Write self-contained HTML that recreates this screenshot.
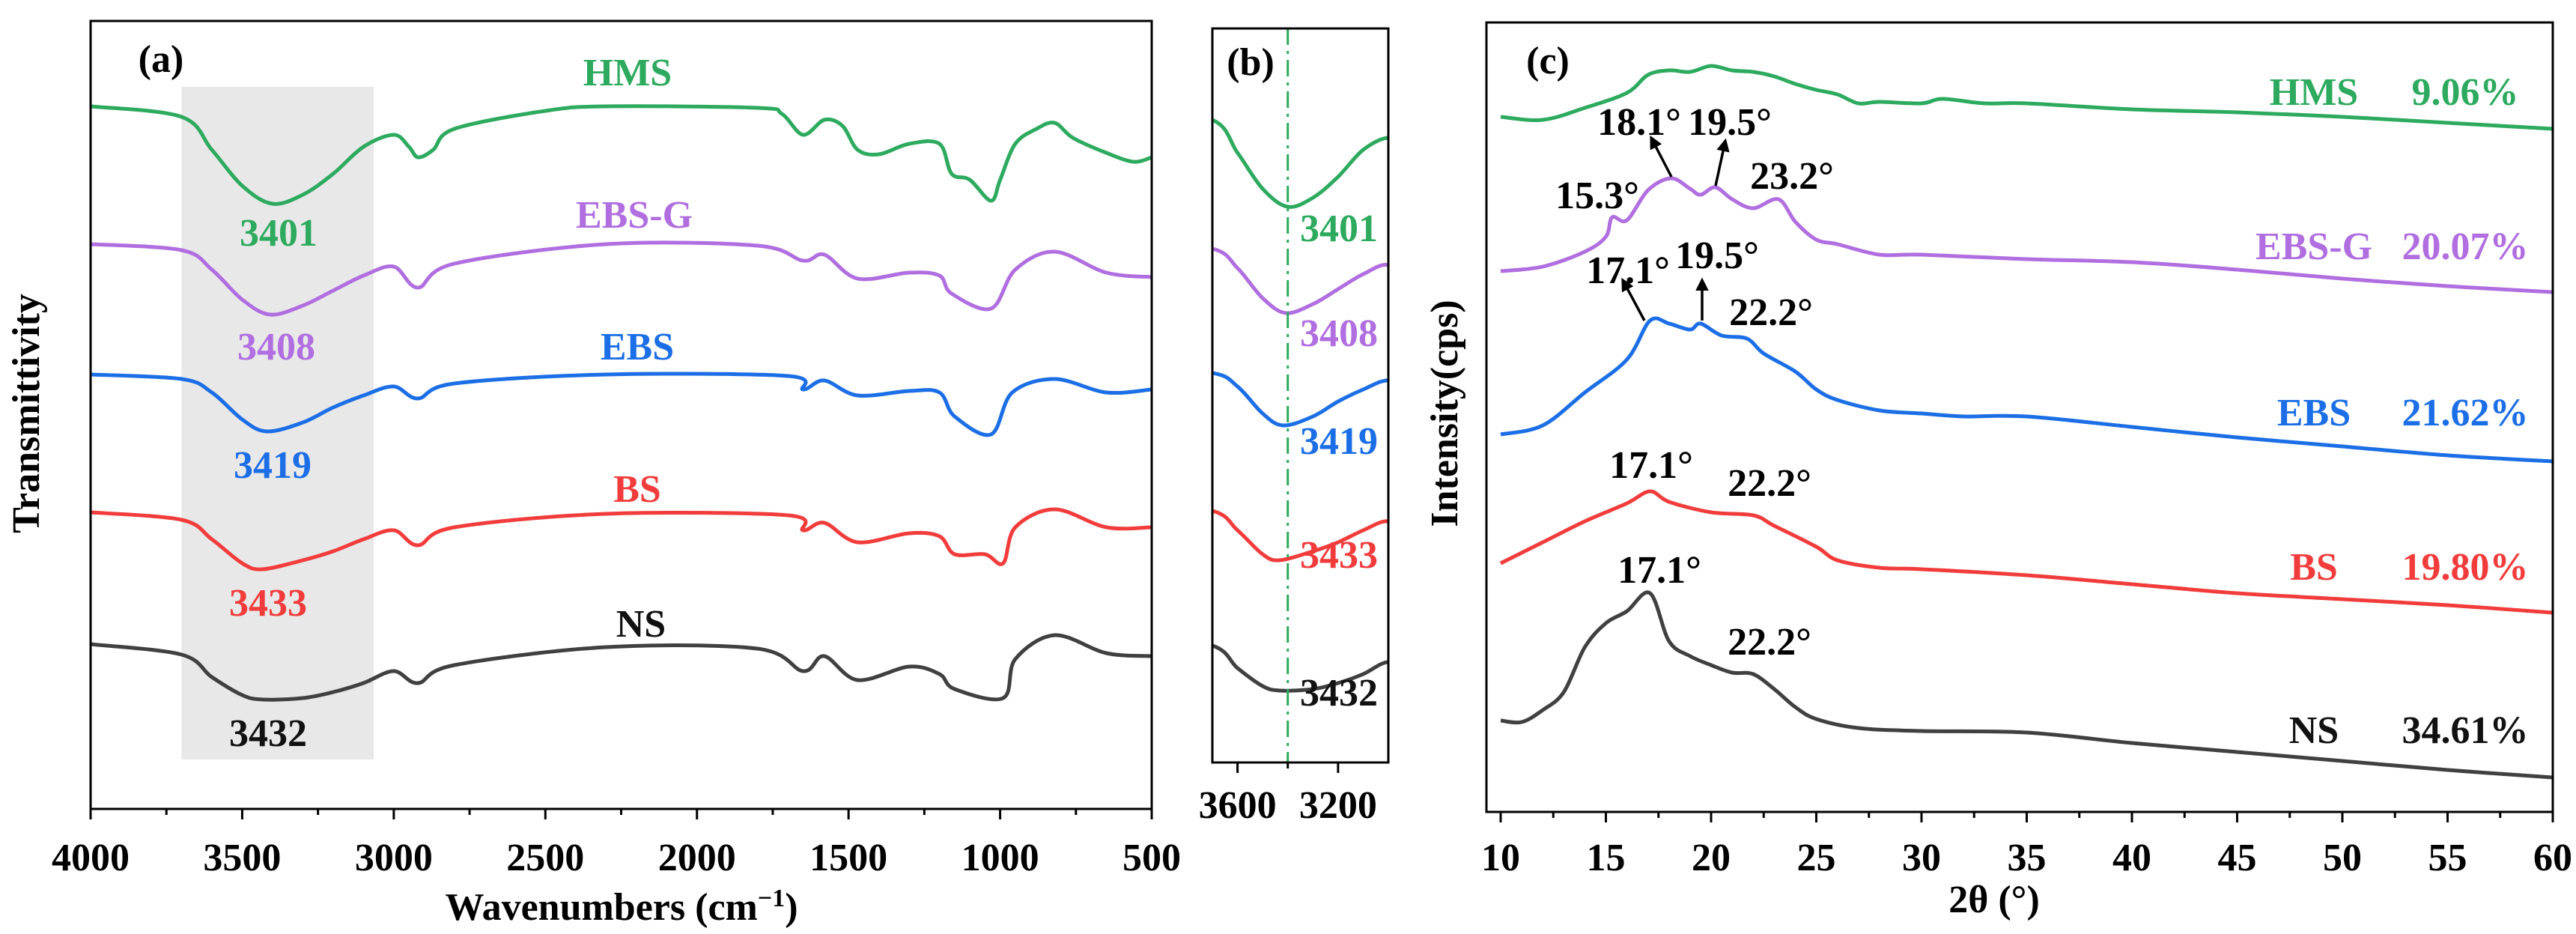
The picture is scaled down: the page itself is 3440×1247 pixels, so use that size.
<!DOCTYPE html>
<html><head><meta charset="utf-8"><style>
html,body{margin:0;padding:0;background:#fff}
svg{display:block}
text{font-family:"Liberation Serif",serif;font-weight:bold}
</style></head><body>
<svg id="fig" width="3440" height="1247" viewBox="0 0 3440 1247" xmlns="http://www.w3.org/2000/svg">
<defs>
<clipPath id="clipA"><rect x="121" y="28" width="1417" height="1052"/></clipPath>
<clipPath id="clipB"><rect x="1619" y="38" width="235" height="980"/></clipPath>
<clipPath id="clipC"><rect x="1985" y="30" width="1424" height="1054"/></clipPath>
<marker id="arr" viewBox="0 0 10 10" refX="8" refY="5" markerWidth="5" markerHeight="5" orient="auto"><path d="M0,0 L10,5 L0,10 z" fill="#000"/></marker>
</defs>
<g id="gA"></g>
<g id="gB"></g>
<g id="gC"></g>
</svg>
<script>
// ---------- FTIR data (transmittance drop, a.u.) ----------
const hmsWn  = [4000,3700,3600,3500,3401,3300,3200,3100,3000,2950,2920,2870,2800,2500,2300,1800,1720,1650,1580,1520,1470,1400,1300,1200,1160,1100,1030,1000,950,880,820,760,650,560,500];
const hmsT   = [0,14,58,106,130,118,90,54,38,54,68,58,30,6,0,2,10,38,18,26,58,64,50,50,90,98,126,98,50,30,22,42,62,74,68];
const ebsgWn = [4000,3700,3600,3500,3408,3300,3200,3100,3000,2920,2800,2300,1800,1650,1580,1470,1300,1200,1160,1030,950,820,650,500];
const ebsgT  = [0,8,34,74,94,82,62,42,30,58,26,0,2,22,14,46,38,42,66,86,34,10,38,44];
const ebsWn  = [4000,3700,3600,3500,3419,3300,3200,3100,3000,2920,2800,2300,1700,1650,1580,1470,1300,1200,1150,1030,960,820,650,500];
const ebsT   = [0,6,24,60,76,64,44,28,16,32,12,0,2,20,8,28,22,24,56,80,24,6,24,20];
const bsWn   = [4000,3700,3600,3500,3433,3300,3200,3100,3000,2920,2800,2300,1700,1650,1580,1470,1300,1200,1150,1050,990,950,820,650,500];
const bsT    = [0,10,36,68,76,64,52,36,24,44,20,2,4,24,14,40,28,32,56,56,68,20,-4,20,20];
const nsWn   = [4000,3700,3600,3500,3432,3300,3200,3100,3000,2920,2800,2300,1800,1650,1580,1470,1300,1200,1150,990,950,820,650,500];
const nsT    = [0,14,44,68,74,72,64,52,36,52,28,4,6,36,16,48,30,40,60,72,20,-12,12,16];
const ftirNames = ["HMS","EBS-G","EBS","BS","NS"];
const ftirPeaks = ["3401","3408","3419","3433","3432"];
const xTicksA = [4000,3500,3000,2500,2000,1500,1000,500];
const xTicksB = [3600,3200];

// ---------- XRD data (intensity, a.u.) ----------
const hmsTh  = [10,12,14,16,17,18,19,20,21,22,23,24,25,26,27,28,30,31,33,35,40,45,50,55,60];
const hmsI   = [944,940,956,976,1000,1006,1004,1012,1006,1004,998,988,980,974,962,964,962,968,962,962,954,950,944,936,928];
const ebsgTh = [10,12,14,15,15.3,16,17,18.1,19,19.5,20.2,21,22,23.2,24,25,26,28,30,35,40,45,50,55,60];
const ebsgI  = [738,744,764,784,810,806,846,862,848,840,850,834,822,834,804,780,774,760,760,754,750,740,728,718,710];
const ebsTh  = [10,12,14,16,17.1,18,19,19.5,20.5,21.7,22.5,24,25,26,28,30,32,35,40,45,50,55,60];
const ebsI   = [520,532,576,620,672,668,660,668,652,648,628,604,580,566,552,548,544,544,530,516,504,492,484];
const bsTh   = [10,12,14,16,17.1,18,20,22,23,25,26,28,30,35,40,45,50,55,60];
const bsI    = [348,376,404,428,444,430,416,412,398,370,352,342,340,332,320,308,300,292,282];
const nsTh   = [10,11,12,13,14,15,16,17.1,18,19,20,21,22,23,24,25,27,30,35,40,45,50,55,60];
const nsI    = [138,136,152,176,236,268,284,308,244,224,212,202,200,180,156,140,128,124,122,108,96,84,72,62];
const xrdCryst = ["9.06%","20.07%","21.62%","19.80%","34.61%"];
const xTicksC = [10,15,20,25,30,35,40,45,50,55,60];

const NS="http://www.w3.org/2000/svg";
const cols=["#2eaa5f","#b06ee0","#1c6ee6","#f23c3c","#404040"];
const labCols=["#2eaa5f","#b06ee0","#1c6ee6","#f23c3c","#111"];
function mk(tag,attrs,parent,txt){const e=document.createElementNS(NS,tag);for(const k in attrs)e.setAttribute(k,attrs[k]);if(txt!==undefined)e.textContent=txt;parent.appendChild(e);return e;}
function interp(xs,ys,x){for(let i=0;i<xs.length-1;i++){const a=xs[i],b=xs[i+1];if((x<=a&&x>=b)||(x>=a&&x<=b)){const t=(x-a)/(b-a);return ys[i]+t*(ys[i+1]-ys[i]);}}return ys[ys.length-1];}
function smooth(pts){
  let d='M'+pts[0][0].toFixed(1)+','+pts[0][1].toFixed(1);
  for(let i=0;i<pts.length-1;i++){
    const p0=pts[Math.max(0,i-1)],p1=pts[i],p2=pts[i+1],p3=pts[Math.min(pts.length-1,i+2)];
    const c1x=p1[0]+(p2[0]-p0[0])/6,c1y=p1[1]+(p2[1]-p0[1])/6;
    const c2x=p2[0]-(p3[0]-p1[0])/6,c2y=p2[1]-(p3[1]-p1[1])/6;
    d+=' C'+c1x.toFixed(1)+','+c1y.toFixed(1)+' '+c2x.toFixed(1)+','+c2y.toFixed(1)+' '+p2[0].toFixed(1)+','+p2[1].toFixed(1);
  }
  return d;
}

// ---------- Panel A ----------
const gA=document.getElementById('gA');
const xA=w=>121+(4000-w)/3500*1417;
const yA=(d,base)=>base+d;
const ftirWn=[hmsWn,ebsgWn,ebsWn,bsWn,nsWn], ftirT=[hmsT,ebsgT,ebsT,bsT,nsT];
const baseA=[142,326,500,684,860];
let sh=mk('rect',{x:xA(3700),y:116,width:xA(3066)-xA(3700),height:898,fill:'#e8e8e8'},gA);


const clA=mk('g',{'clip-path':'url(#clipA)'},gA);
ftirNames.forEach((n,i)=>{
  const pts=ftirWn[i].map((w,j)=>[xA(w),yA(ftirT[i][j],baseA[i])]);
  const p=mk('path',{d:smooth(pts),fill:'none',stroke:cols[i],'stroke-width':5,'stroke-linejoin':'round'},clA);
  
  
});
const labA=[[838,96],[847,286],[851,462],[851,652],[856,832]];
const pkA=[[372,310],[369,462],[364,620],[358,804],[358,978]];
ftirNames.forEach((n,i)=>{
  let t=mk('text',{x:labA[i][0],y:labA[i][1]+18,'text-anchor':'middle','font-size':52,fill:labCols[i]},gA,n);
  
  
  t=mk('text',{x:pkA[i][0],y:pkA[i][1]+18,'text-anchor':'middle','font-size':52,fill:labCols[i]},gA,ftirPeaks[i]);
  
  
});
let fr=mk('rect',{x:121,y:28,width:1417,height:1052,fill:'none',stroke:'#000','stroke-width':3},gA);


for(let w=4000;w>=500;w-=250){mk('line',{x1:xA(w),x2:xA(w),y1:1080,y2:w%500===0?1094:1088,stroke:'#000','stroke-width':3},gA);}
xTicksA.forEach(w=>{const t=mk('text',{x:xA(w),y:1162,'text-anchor':'middle','font-size':52},gA,w);
  
  });
let tt=mk('text',{x:830,y:1228,'text-anchor':'middle','font-size':52},gA);
tt.innerHTML='Wavenumbers (cm<tspan dy="-18" font-size="34">−1</tspan><tspan dy="18">)</tspan>';


tt=mk('text',{x:0,y:0,transform:'translate(52,552) rotate(-90)','text-anchor':'middle','font-size':52},gA,'Transmittivity');


tt=mk('text',{x:215,y:96,'text-anchor':'middle','font-size':52},gA,'(a)');



// ---------- Panel B ----------
const gB=document.getElementById('gB');
const xB=w=>1619+(3700-w)/700*235;
const baseB=[146,324,492,672,848];
const clB=mk('g',{'clip-path':'url(#clipB)'},gB);
ftirNames.forEach((n,i)=>{
  const src=ftirWn[i].map((w,j)=>[xB(w),yA(ftirT[i][j],baseB[i])]);
  const p=mk('path',{d:smooth(src),fill:'none',stroke:cols[i],'stroke-width':5},clB);
  
  
});
let dl=mk('line',{x1:xB(3400),x2:xB(3400),y1:38,y2:1018,stroke:'#2eaa5f','stroke-width':3,'stroke-dasharray':'22,8,4,8'},gB);


const pkBy=[304,444,588,740,924];
ftirNames.forEach((n,i)=>{const t=mk('text',{x:1788,y:pkBy[i]+18,'text-anchor':'middle','font-size':52,fill:labCols[i]},gB,ftirPeaks[i]);
  
  });
fr=mk('rect',{x:1619,y:38,width:235,height:980,fill:'none',stroke:'#000','stroke-width':3},gB);


[3600,3400,3200].forEach(w=>mk('line',{x1:xB(w),x2:xB(w),y1:1018,y2:w===3400?1026:1032,stroke:'#000','stroke-width':3},gB));
xTicksB.forEach(w=>{const t=mk('text',{x:xB(w),y:1092,'text-anchor':'middle','font-size':52},gB,w);
  
  });
tt=mk('text',{x:1670,y:100,'text-anchor':'middle','font-size':52},gB,'(b)');



// ---------- Panel C ----------
const gC=document.getElementById('gC');
const xC=t=>2004+(t-10)*28.1;
const yC=v=>1100-v;
const xrdTh=[hmsTh,ebsgTh,ebsTh,bsTh,nsTh], xrdI=[hmsI,ebsgI,ebsI,bsI,nsI];
const clC=mk('g',{'clip-path':'url(#clipC)'},gC);
ftirNames.forEach((n,i)=>{
  const pts=xrdTh[i].map((t,j)=>[xC(t),yC(xrdI[i][j])]);
  const p=mk('path',{d:smooth(pts),fill:'none',stroke:cols[i],'stroke-width':5,'stroke-linejoin':'round'},clC);
  
  
});
const labCy=[122,328,550,756,974];
ftirNames.forEach((n,i)=>{
  let t=mk('text',{x:3090,y:labCy[i]+18,'text-anchor':'middle','font-size':52,fill:labCols[i]},gC,n);
  
  
  t=mk('text',{x:3292,y:labCy[i]+18,'text-anchor':'middle','font-size':52,fill:labCols[i]},gC,xrdCryst[i]);
  
  
});
const pkLabs=[["18.1°",2189,162],["19.5°",2310,162],["15.3°",2133,260],["23.2°",2393,234],["17.1°",2174,360],["19.5°",2293,340],["22.2°",2365,416],["17.1°",2205,620],["22.2°",2363,644],["17.1°",2216,760],["22.2°",2363,856]];
pkLabs.forEach(p=>{const t=mk('text',{x:p[1],y:p[2]+18,'text-anchor':'middle','font-size':52},gC,p[0]);
  
  });
[[2232,236,2205,184],[2291,248,2304,188],[2196,428,2167,374],[2273,428,2273,374]].forEach(a=>{
  const l=mk('line',{x1:a[0],y1:a[1],x2:a[2],y2:a[3],stroke:'#000','stroke-width':3.5,'marker-end':'url(#arr)'},gC);
  
  });
fr=mk('rect',{x:1985,y:30,width:1424,height:1054,fill:'none',stroke:'#000','stroke-width':3},gC);


for(let t=10;t<=60;t+=2.5){mk('line',{x1:xC(t),x2:xC(t),y1:1084,y2:t%5===0?1098:1092,stroke:'#000','stroke-width':3},gC);}
xTicksC.forEach(t=>{const e=mk('text',{x:xC(t),y:1162,'text-anchor':'middle','font-size':52},gC,t);
  
  });
tt=mk('text',{x:2663,y:1218,'text-anchor':'middle','font-size':52},gC,'2θ (°)');


tt=mk('text',{x:0,y:0,transform:'translate(1946,552) rotate(-90)','text-anchor':'middle','font-size':52},gC,'Intensity(cps)');


tt=mk('text',{x:2067,y:98,'text-anchor':'middle','font-size':52},gC,'(c)');


</script>
</body></html>
